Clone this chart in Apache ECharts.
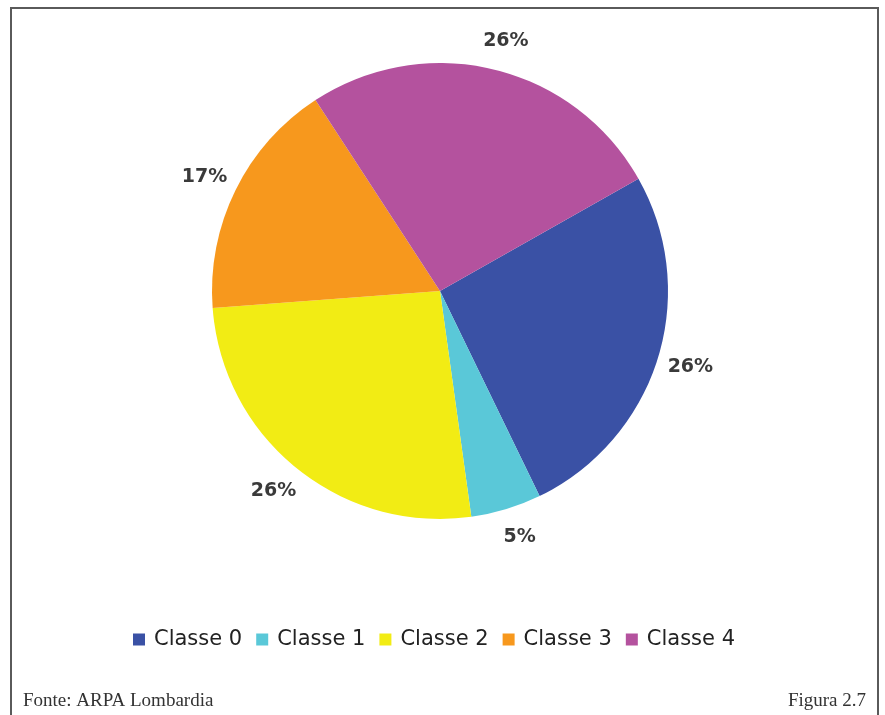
<!DOCTYPE html>
<html>
<head>
<meta charset="utf-8">
<script src="https://cdn.jsdelivr.net/npm/echarts@6/dist/echarts.min.js"></script>
<style>
html,body{margin:0;padding:0;background:#fff;}
#chart{width:885px;height:715px;}
</style>
</head>
<body>
<div id="chart"></div>
<script>
const categories = ['Classe 0', 'Classe 1', 'Classe 2', 'Classe 3', 'Classe 4'];
const values = [26, 5, 26, 17, 26];
const colors = ['#3a51a5', '#5ac8d8', '#f2ec14', '#f7981d', '#b4529e'];

const chart = echarts.init(document.getElementById('chart'), null, {renderer: 'canvas'});
chart.setOption({
  backgroundColor: '#ffffff',
  animation: false,
  graphic: [{
    type: 'rect',
    shape: {x: 11, y: 8, width: 867, height: 730},
    style: {fill: 'none', stroke: '#5a5a5a', lineWidth: 2},
    silent: true
  }],
  title: [
    {text: 'Fonte: ARPA Lombardia', left: 18, top: 687,
     textStyle: {fontFamily: 'Liberation Serif', fontSize: 19, fontWeight: 'normal', color: '#333'}},
    {text: 'Figura 2.7', right: 14, top: 687,
     textStyle: {fontFamily: 'Liberation Serif', fontSize: 19, fontWeight: 'normal', color: '#333'}}
  ],
  legend: {
    data: categories,
    left: 128,
    top: 624,
    icon: 'rect',
    itemWidth: 12,
    itemHeight: 12,
    itemGap: 14,
    textStyle: {fontFamily: 'DejaVu Sans', fontSize: 21, color: '#222', padding: [0, 0, 0, 4]}
  },
  series: [{
    type: 'pie',
    center: [440, 291],
    radius: 228,
    startAngle: 29.5,
    clockwise: true,
    color: colors,
    data: categories.map((c, i) => ({name: c, value: values[i]})),
    itemStyle: {borderWidth: 0},
    label: {
      show: true,
      position: 'outside',
      formatter: '{c}%',
      fontFamily: 'DejaVu Sans',
      fontSize: 19,
      fontWeight: 'bold',
      color: '#3a3a3a'
    },
    labelLine: {show: false, length: 29, length2: 0},
    labelLayout: function () { return {align: 'center', verticalAlign: 'middle'}; },
    emphasis: {disabled: true}
  }]
});
</script>
</body>
</html>
